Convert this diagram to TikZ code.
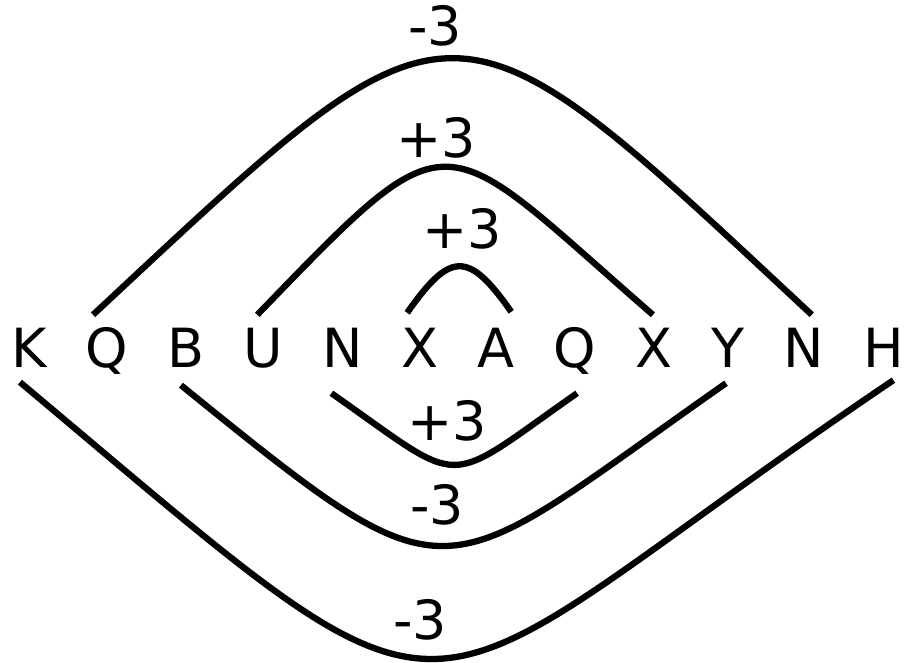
\documentclass[tikz,border=0pt]{standalone}
\usepackage{fontspec}
\setmainfont{DejaVu Sans}
\usetikzlibrary{positioning}
\tikzset{
  letra/.style={inner sep=0pt, text height=40pt, text depth=0pt,
    font=\fontsize{54}{60}\selectfont},
  rotulo/.style={letra},
  arco/.style={line width=6.3pt},
}
\begin{document}
\begin{tikzpicture}[x=1pt, y=1pt, node distance=38.7pt]
    \useasboundingbox (0,0) rectangle (904,662);
    % the row of letters
    \node[letra] (k) at (29,315) {K};
    \node[letra, right=of k] (q1) {Q};
    \node[letra, right=of q1] (b) {B};
    \node[letra, right=of b] (u) {U};
    \node[letra, right=of u] (n1) {N};
    \node[letra, right=of n1] (x1) {X};
    \node[letra, right=of x1] (a) {A};
    \node[letra, right=of a] (q2) {Q};
    \node[letra, right=of q2] (x2) {X};
    \node[letra, right=of x2] (y) {Y};
    \node[letra, right=of y] (n2) {N};
    \node[letra, right=of n2] (h) {H};
    % arcs above
    \draw[arco] ([xshift=-14pt, yshift=12pt]q1.north) to[out=43, in=137, looseness=1.79] ([xshift=8pt, yshift=12pt]n2.north);
    \draw[arco] ([xshift=-6pt, yshift=12pt]u.north) to[out=46, in=139, looseness=1.86] ([xshift=-1pt, yshift=12pt]x2.north);
    \draw[arco] ([xshift=-13pt, yshift=14pt]x1.north) to[out=55, in=125, looseness=1.84] ([xshift=15pt, yshift=15pt]a.north);
    % arcs below
    \draw[arco] ([xshift=-11pt, yshift=-26pt]n1.south) to[out=-35, in=-145, looseness=1.74] ([xshift=2pt, yshift=-26pt]q2.south);
    \draw[arco] ([xshift=-5pt, yshift=-18pt]b.south) to[out=-39, in=-145, looseness=1.68] ([xshift=-2pt, yshift=-16pt]y.south);
    \draw[arco] ([xshift=-9pt, yshift=-15pt]k.south) to[out=-40, in=-146, looseness=1.80] ([xshift=10pt, yshift=-13pt]h.south);
    % labels
    \node[rotulo] (s1) at (435,636) {-3};
    \node[rotulo] (s2) at (436,524) {+3};
    \node[rotulo] (s3) at (462,433) {+3};
    \node[rotulo] (s4) at (447,242) {+3};
    \node[rotulo] (s5) at (437,158) {-3};
    \node[rotulo] (s6) at (420,43) {-3};
\end{tikzpicture}
\end{document}
